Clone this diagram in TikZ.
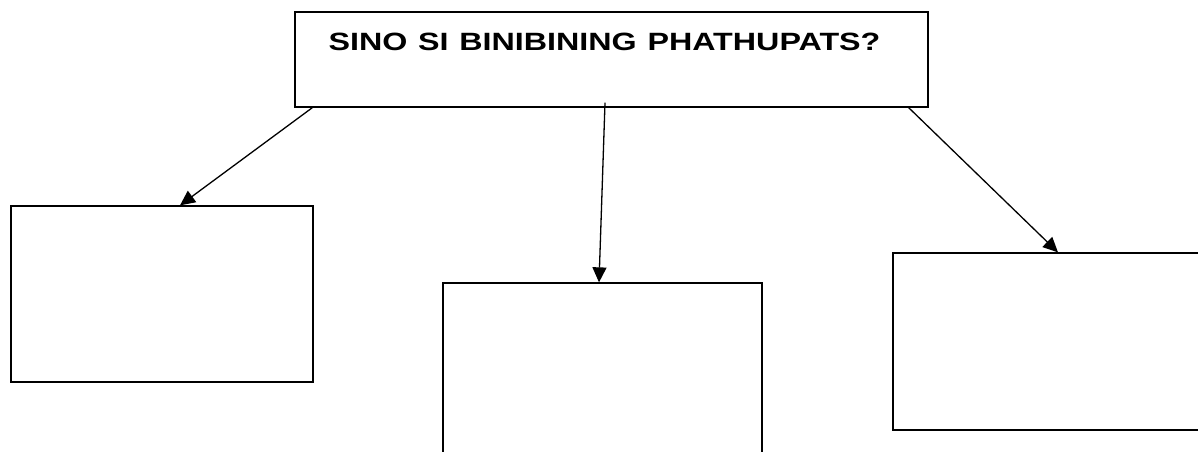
\documentclass[tikz,border=0pt]{standalone}
\usepackage{fontspec}
\setmainfont{Liberation Sans}
\usetikzlibrary{arrows.meta}

\begin{document}
\begin{tikzpicture}[x=1pt,y=-1pt]
\clip (0,0) rectangle (1198,451);
\fill[white] (0,0) rectangle (1198,451);
\begin{scope}[every node/.style={rectangle,draw,line width=1.3pt,inner sep=0pt},
  arr/.style={line width=1.3pt,-{Triangle[length=15pt,width=14pt]}}]
\node (top) at (611.5,59.5) [minimum width=633pt,text width=633pt,align=center,
  text height=38pt,text depth=57pt,font=\bfseries\fontsize{25}{30}\selectfont]
  {\hspace*{-14pt}\scalebox{1.29}[1]{SINO SI BINIBINING PHATHUPATS?}};

\node (left) at (162,294) [minimum width=302pt,minimum height=176pt] {};
\node (mid) at (602.5,383) [minimum width=319pt,minimum height=200pt] {};
\node (right) at (1063,341.5) [minimum width=340pt,minimum height=177pt] {};

\draw[arr] ([xshift=18pt]top.south west) -- ([xshift=18pt]left.north);
\draw[arr] ([xshift=-6.5pt,yshift=5pt]top.south) -- ([xshift=-3.5pt]mid.north);
\draw[arr] ([xshift=-20pt]top.south east) -- ([xshift=-5pt]right.north);

\end{scope}
\end{tikzpicture}
\end{document}
